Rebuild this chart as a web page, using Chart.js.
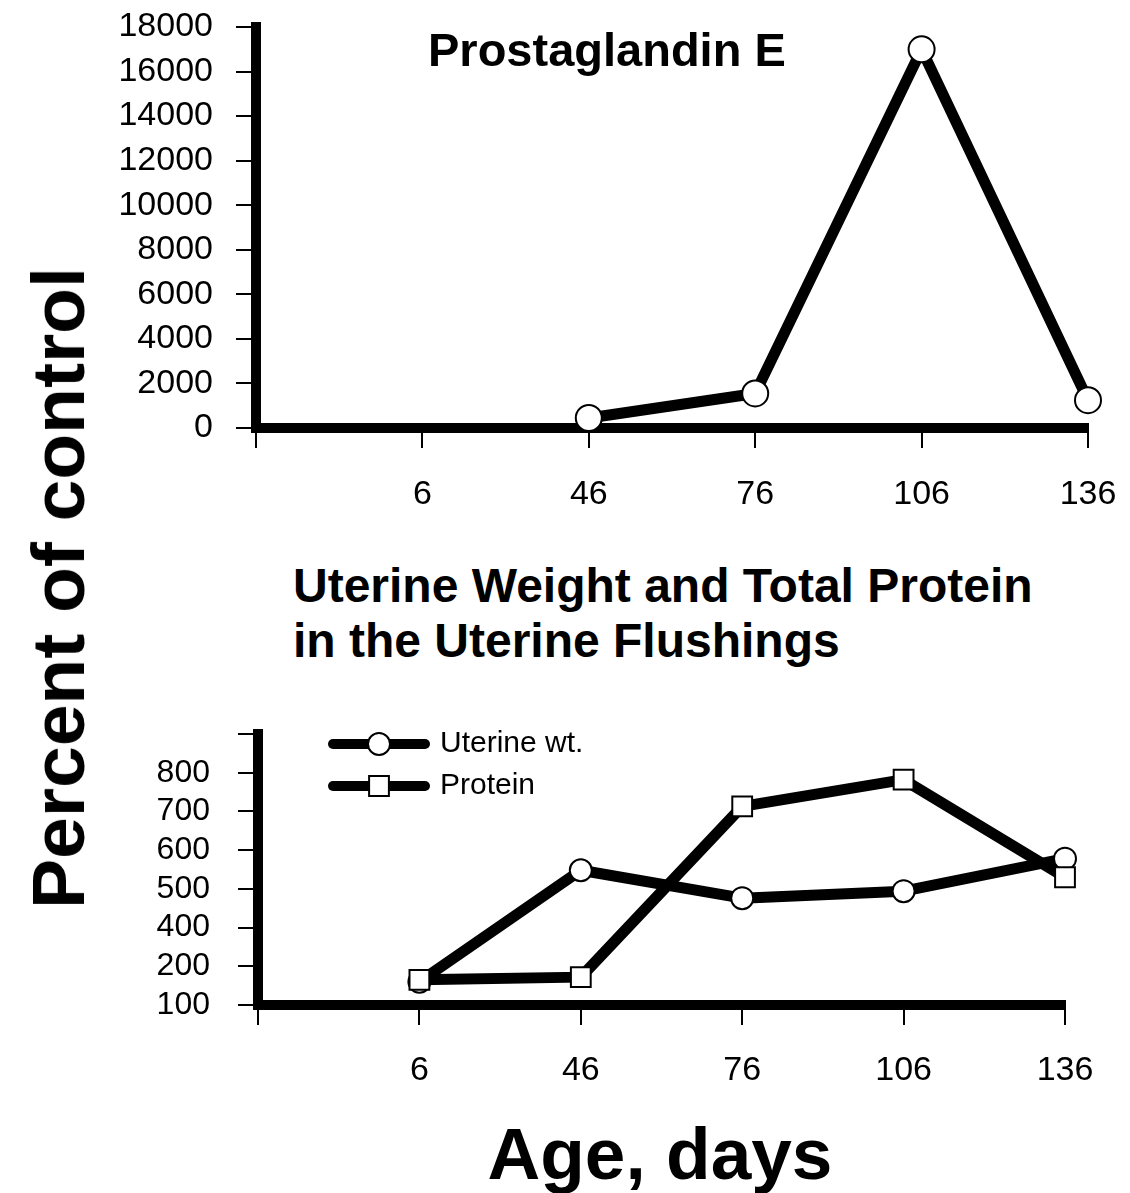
<!DOCTYPE html>
<html>
<head>
<meta charset="utf-8">
<script src="https://cdn.jsdelivr.net/npm/chart.js@4"></script>
<style>
  body { margin: 0; background: #fff; width: 1130px; height: 1193px; position: relative; overflow: hidden; }
  canvas { position: absolute; left: 0; }
  .txt { position: absolute; font-family: "Liberation Sans", Arial, sans-serif; font-weight: bold; color: #000; white-space: nowrap; }
</style>
</head>
<body>
<canvas id="pgeChart" width="1130" height="540" style="top:0"></canvas>
<canvas id="uterusChart" width="1130" height="400" style="top:700px"></canvas>

<div class="txt" style="left:428px; top:22px; font-size:47px; line-height:56px;">Prostaglandin E</div>
<div class="txt" style="left:293px; top:558px; font-size:48px; line-height:55px;">Uterine Weight and Total Protein<br>in the Uterine Flushings</div>
<div class="txt" style="left:58px; top:588px; font-size:75px; transform: translate(-50%, -50%) rotate(-90deg);">Percent of control</div>
<div class="txt" style="left:660px; top:1153px; font-size:73px; transform: translate(-50%, -50%);">Age, days</div>

<script>
// ages on the x axis, first slot is the blank origin tick
const ages = ['', '6', '46', '76', '106', '136'];

// prostaglandin E, % of control (no value at day 6)
const pgeValues = [null, null, 450, 1550, 17000, 1250];

// bottom panel, % of control
const uterineWt = [null, 260, 548, 476, 494, 578];
const protein = [null, 265, 272, 713, 782, 530];

// bottom y axis as printed in the figure (value -> label)
const lowerTickLabels = { 200: '100', 300: '200', 400: '400', 500: '500', 600: '600', 700: '700', 800: '800', 900: '' };

const font = "'Liberation Sans', Arial, sans-serif";
Chart.defaults.font.family = font;
Chart.defaults.color = '#000';

const lineStyle = {
  type: 'line',
  borderColor: '#000',
  borderWidth: 11,
  borderJoinStyle: 'round',
  pointBackgroundColor: '#fff',
  pointBorderColor: '#000',
  pointBorderWidth: 2,
  tension: 0,
  spanGaps: false,
  clip: false,
};

const axisBorder = { display: true, color: '#000', width: 10 };
const tickGrid = { drawOnChartArea: false, drawTicks: true, tickLength: 20, color: '#000', lineWidth: 2 };

// keep the chart area where the layout padding puts it
const fixX = h => s => { s.height = h; s.paddingLeft = 0; s.paddingRight = 0; };
const fixY = w => s => { s.width = w; s.paddingTop = 0; s.paddingBottom = 0; };

// draws "line + marker + text" entries like the original figure
const lineLegend = {
  id: 'lineLegend',
  afterDatasetsDraw(chart, args, opts) {
    if (!opts.items) return;
    const ctx = chart.ctx;
    ctx.save();
    chart.data.datasets.forEach((ds, i) => {
      const y = opts.y + i * opts.gap;
      ctx.strokeStyle = '#000';
      ctx.lineWidth = 10;
      ctx.lineCap = 'round';
      ctx.beginPath();
      ctx.moveTo(opts.x, y);
      ctx.lineTo(opts.x + opts.len, y);
      ctx.stroke();
      const cx = opts.x + opts.len / 2;
      ctx.fillStyle = '#fff';
      ctx.lineWidth = 2;
      ctx.beginPath();
      if (ds.pointStyle === 'rect') {
        const s = ds.pointRadius * Math.SQRT1_2;
        ctx.rect(cx - s, y - s, 2 * s, 2 * s);
      } else {
        ctx.arc(cx, y, ds.pointRadius, 0, Math.PI * 2);
      }
      ctx.fill();
      ctx.stroke();
      ctx.fillStyle = '#000';
      ctx.font = '30px ' + font;
      ctx.textBaseline = 'middle';
      ctx.fillText(ds.label, opts.x + opts.len + 15, y);
    });
    ctx.restore();
  }
};

new Chart(document.getElementById('pgeChart'), {
  data: {
    labels: ages,
    datasets: [
      { ...lineStyle, label: 'Prostaglandin E', data: pgeValues, pointRadius: 13, pointStyle: 'circle' }
    ]
  },
  options: {
    responsive: false,
    animation: false,
    layout: { padding: { left: 0, top: 27, right: 42, bottom: 0 } },
    plugins: { legend: { display: false }, tooltip: { enabled: false } },
    scales: {
      x: {
        type: 'category',
        offset: false,
        border: axisBorder,
        grid: tickGrid,
        ticks: { font: { size: 34 }, padding: 26, maxRotation: 0, autoSkip: false },
        afterFit: fixX(112)
      },
      y: {
        type: 'linear',
        min: 0,
        max: 18000,
        border: axisBorder,
        grid: tickGrid,
        ticks: { stepSize: 2000, font: { size: 34 }, padding: 23, autoSkip: false, callback: v => String(v) },
        afterFit: fixY(256)
      }
    }
  }
});

new Chart(document.getElementById('uterusChart'), {
  data: {
    labels: ages,
    datasets: [
      { ...lineStyle, label: 'Uterine wt.', data: uterineWt, pointRadius: 11, pointStyle: 'circle', order: 2 },
      { ...lineStyle, label: 'Protein', data: protein, pointRadius: 14, pointStyle: 'rect', order: 1 }
    ]
  },
  options: {
    responsive: false,
    animation: false,
    layout: { padding: { left: 0, top: 34, right: 65, bottom: 0 } },
    plugins: {
      legend: { display: false },
      tooltip: { enabled: false },
      lineLegend: { items: true, x: 333, y: 44, gap: 42, len: 92 }
    },
    scales: {
      x: {
        type: 'category',
        offset: false,
        border: axisBorder,
        grid: tickGrid,
        ticks: { font: { size: 34 }, padding: 25, maxRotation: 0, autoSkip: false },
        afterFit: fixX(95)
      },
      y: {
        type: 'linear',
        min: 200,
        max: 900,
        border: axisBorder,
        grid: tickGrid,
        ticks: {
          stepSize: 100,
          font: { size: 32 },
          padding: 28,
          autoSkip: false,
          callback: v => lowerTickLabels[v]
        },
        afterFit: fixY(258)
      }
    }
  },
  plugins: [lineLegend]
});
</script>
</body>
</html>
